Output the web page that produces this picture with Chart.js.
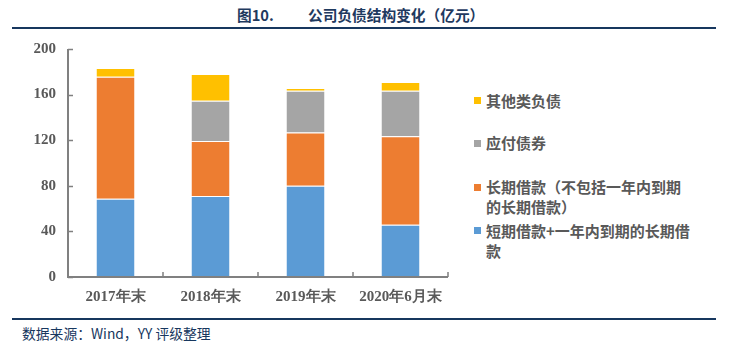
<!DOCTYPE html>
<html><head><meta charset="utf-8">
<script src="https://cdn.jsdelivr.net/npm/chart.js@4/dist/chart.umd.min.js"></script>
<style>
html,body{margin:0;padding:0;background:#fff;width:732px;height:353px;overflow:hidden;position:relative;font-family:"Noto Sans CJK SC",sans-serif;}
.t{position:absolute;font-weight:bold;color:#1F3A5F;font-size:14.7px;line-height:20px;top:5px;white-space:nowrap;}
.rule{position:absolute;left:12px;width:704px;height:2px;background:#17375E;}
#wrap{position:absolute;left:0;top:28px;width:460px;height:282px;}
.lg{position:absolute;left:474px;font-size:15px;line-height:20px;color:#595959;font-weight:bold;}
.lg i{position:absolute;left:0;width:7px;height:7px;}
.lg span{position:absolute;left:12px;width:206px;}
#src{position:absolute;left:22px;top:323px;font-size:13.8px;line-height:20px;color:#17375E;white-space:nowrap;}
</style></head><body>
<div class="t" style="left:237px">图10.</div>
<div class="t" style="left:308px">公司负债结构变化（亿元）</div>
<div class="rule" style="top:27px"></div>
<div id="wrap"><canvas id="c" width="460" height="282"></canvas></div>
<div id="legend"></div>
<div class="rule" style="top:318px"></div>
<div id="src">数据来源：Wind，YY 评级整理</div>
<script>
const categories = ["2017年末","2018年末","2019年末","2020年6月末"];
const seriesNames = ["短期借款+一年内到期的长期借款","长期借款（不包括一年内到期的长期借款）","应付债券","其他类负债"];
const shortDebt = [68.6, 71.0, 80.1, 45.8];
const longDebt = [107.1, 48.4, 46.6, 77.7];
const bonds = [0, 35.2, 36.7, 39.9];
const others = [7.6, 23.4, 2.3, 7.6];
const yTicks = [0, 40, 80, 120, 160, 200];
const colors = ["#5B9BD5","#ED7D31","#A5A5A5","#FFC000"];

const seriesValues = [shortDebt, longDebt, bonds, others];
const tickFont = {family:"'Liberation Serif','Times New Roman',serif", size:15, weight:'bold'};

const innerTicks = {
  id:'innerTicks',
  afterDatasetsDraw(chart){
    const ctx = chart.ctx, x = chart.scales.x, y = chart.scales.y;
    ctx.save();
    ctx.strokeStyle = '#808080'; ctx.lineWidth = 2;
    ctx.beginPath();
    ctx.moveTo(x.left, y.top); ctx.lineTo(x.left, y.bottom); ctx.lineTo(x.right, y.bottom);
    ctx.stroke();
    ctx.lineWidth = 1.5;
    ctx.beginPath();
    yTicks.forEach(v => { const p = Math.round(y.getPixelForValue(v)) + 0.5; ctx.moveTo(x.left, p); ctx.lineTo(x.left + 5, p); });
    const n = categories.length;
    const step = x.getPixelForValue(1) - x.getPixelForValue(0);
    for (let i = 1; i <= n; i++) {
      const p = x.getPixelForValue(i - 1) + step / 2;
      ctx.moveTo(p, y.bottom); ctx.lineTo(p, y.bottom - 5);
    }
    ctx.stroke();
    ctx.restore();
  }
};

const chart = new Chart(document.getElementById('c'), {
  type:'bar',
  data:{
    labels: categories,
    datasets: seriesNames.map((name, i) => ({
      label: name,
      data: seriesValues[i],
      backgroundColor: colors[i],
      borderColor: 'rgba(255,255,255,0.7)',
      borderWidth: {top:1, left:0, right:0, bottom:0},
      borderSkipped: false,
      barPercentage: 0.4,
      categoryPercentage: 1.0
    }))
  },
  options:{
    responsive:false,
    animation:false,
    layout:{padding:{top:7, right:12, left:0, bottom:0}},
    plugins:{legend:{display:false}, tooltip:{enabled:false}, title:{display:false}},
    scales:{
      x:{
        stacked:true,
        grid:{display:false, drawTicks:false},
        border:{display:false},
        ticks:{font:tickFont, color:'#595959', padding:11, maxRotation:0, autoSkip:false},
        afterFit(s){ s.height = 33; }
      },
      y:{
        stacked:true,
        min:0, max:200,
        afterBuildTicks(s){ s.ticks = yTicks.map(v => ({value:v})); },
        grid:{display:false, drawTicks:false},
        border:{display:false},
        ticks:{font:tickFont, color:'#595959', padding:12},
        afterFit(s){ s.width = 68; }
      }
    }
  },
  plugins:[innerTicks]
});

// HTML legend built from chart datasets (reversed order)
const legendPos = [230.7, 187.3, 143, 100.7];
const lg = document.getElementById('legend');
chart.data.datasets.forEach((ds, i) => {
  const d = document.createElement('div');
  d.className = 'lg';
  d.style.top = (legendPos[i] - 10) + 'px';
  const sq = document.createElement('i');
  sq.style.background = ds.backgroundColor;
  sq.style.top = '6.5px';
  const sp = document.createElement('span');
  sp.textContent = ds.label;
  d.appendChild(sq); d.appendChild(sp);
  lg.appendChild(d);
});
</script>
</body></html>
